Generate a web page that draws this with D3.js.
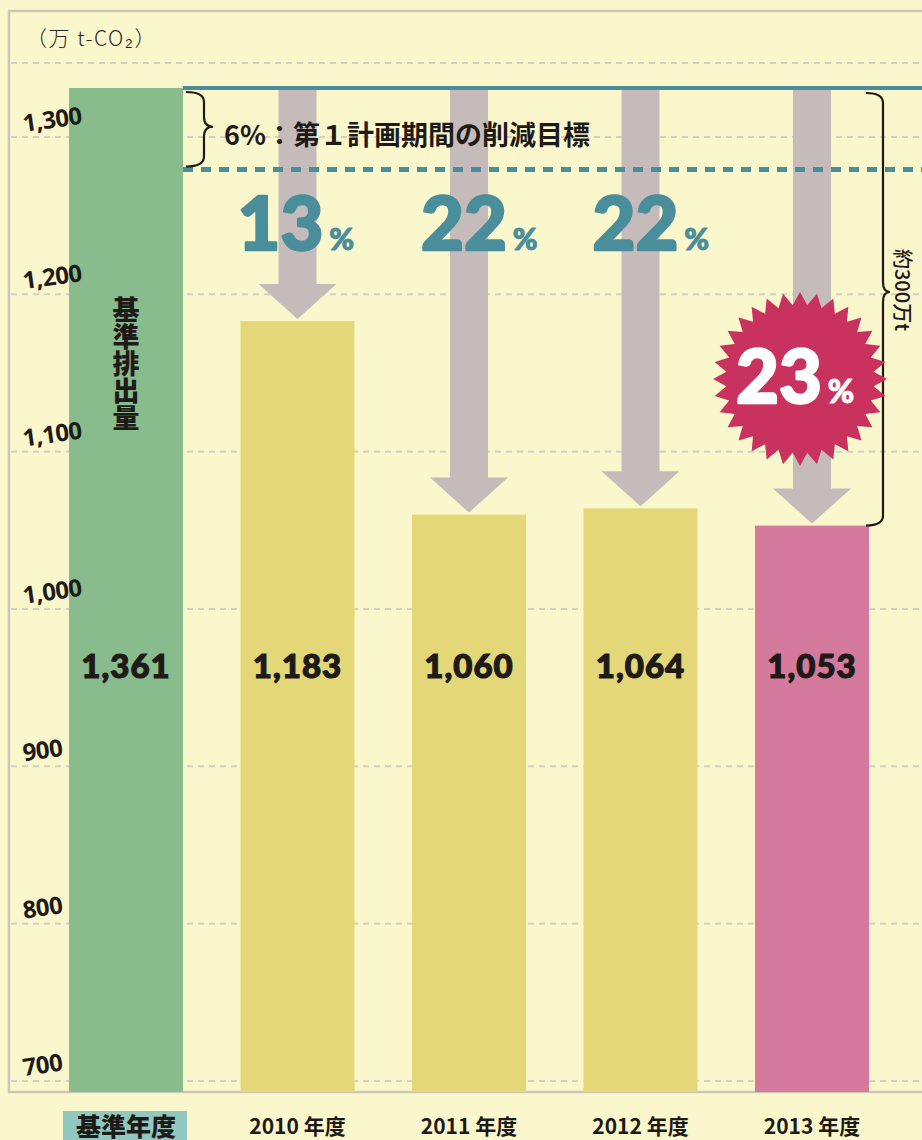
<!DOCTYPE html>
<html>
<head>
<meta charset="utf-8">
<script src="https://cdn.jsdelivr.net/npm/d3@7"></script>
<style>
  body { margin: 0; background: #fbf7cd; }
  svg { display: block; }
</style>
</head>
<body>
<div id="chart"></div>
<script>
// Chart data
const categories = ["基準年度", "2010 年度", "2011 年度", "2012 年度", "2013 年度"];
const emissions = [1361, 1183, 1060, 1064, 1053];
const yTicks = [700, 800, 900, 1000, 1100, 1200, 1300];
const targetPct = 6;

const width = 922, height = 1140;
const plotBottom = 1092;
const barWidth = 114;

const BG = "#fbf7cd";
const TEAL = "#4a8d9b";
const INK = "#1e1a18";
const barColors = ["#88bc8c", "#e3d778", "#e3d778", "#e3d778", "#d47a9d"];

let svg = d3.select("#chart")
    .append("svg")
    .attr("width", width)
    .attr("height", height);

svg.append("rect")
    .attr("width", width).attr("height", height)
    .attr("fill", BG);

// x: bar centers
let x = d3.scalePoint()
    .domain(categories)
    .range([126, 812]);

// y: linear from 700 to 1300, then compressed above (axis break)
let y = d3.scaleLinear()
    .domain([700, 1300, 1361, 1400])
    .range([1081, 137, 88, 63]);

// frame
svg.append("rect")
    .attr("x", 9).attr("y", 11)
    .attr("width", width + 20).attr("height", plotBottom - 11)
    .attr("fill", "none")
    .attr("stroke", "#ccc8b8")
    .attr("stroke-width", 2.5);

// gridlines
svg.append("g")
    .selectAll("line")
    .data(yTicks.concat([1400]))
    .enter()
    .append("line")
    .attr("x1", 11).attr("x2", width)
    .attr("y1", d => y(d)).attr("y2", d => y(d))
    .attr("stroke", "#d3d0c2")
    .attr("stroke-width", 2)
    .attr("stroke-dasharray", "6,5");

// unit
svg.append("text")
    .attr("x", 26).attr("y", 46)
    .style("font-family", "'Noto Sans CJK JP', sans-serif")
    .style("font-weight", 300)
    .style("font-size", "21px")
    .style("letter-spacing", "1.5px")
    .attr("fill", "#2a2522")
    .text("（万 t-CO₂）");

// bars
svg.append("g")
    .selectAll("rect")
    .data(emissions)
    .enter()
    .append("rect")
    .attr("x", (d, i) => x(categories[i]) - barWidth / 2)
    .attr("y", d => y(d))
    .attr("width", barWidth)
    .attr("height", d => plotBottom - y(d))
    .attr("fill", (d, i) => barColors[i]);

// tick labels (tilted, drawn over the base bar)
svg.append("g")
    .selectAll("text")
    .data(yTicks)
    .enter()
    .append("text")
    .attr("transform", d => `translate(24, ${y(d) - 5}) rotate(-8)`)
    .style("font-family", "'Noto Sans', sans-serif")
    .style("font-weight", 700)
    .style("font-size", "24px")
    .style("letter-spacing", "-0.5px")
    .attr("fill", INK)
    .text(d => d3.format(",")(d));

// arrows from base level down to each year's bar
const base = emissions[0];
const years = emissions.slice(1).map((v, i) => ({ cat: categories[i + 1], v: v }));
let arrows = svg.append("g");
years.forEach(function(d) {
    let cx = x(d.cat);
    let tip = y(d.v) - 2;
    let headTop = tip - 35;
    arrows.append("rect")
        .attr("x", cx - 19).attr("y", y(base))
        .attr("width", 38).attr("height", headTop - y(base) + 1)
        .attr("fill", "#c4bbba");
    arrows.append("path")
        .attr("d", `M${cx - 39},${headTop} L${cx + 39},${headTop} L${cx},${tip} Z`)
        .attr("fill", "#c4bbba");
});

// base line and 6% target line
const x0 = x(categories[0]) + barWidth / 2;
let yTarget = y(base * (1 - targetPct / 100));
svg.append("line")
    .attr("x1", x0).attr("x2", width)
    .attr("y1", y(base)).attr("y2", y(base))
    .attr("stroke", TEAL).attr("stroke-width", 4);
svg.append("line")
    .attr("x1", x0).attr("x2", width)
    .attr("y1", yTarget).attr("y2", yTarget)
    .attr("stroke", TEAL).attr("stroke-width", 5)
    .attr("stroke-dasharray", "10,8");

// curly brace helper (opening to the left, tip to the right)
function brace(xs, y0, y1, ym, w, t) {
    let xb = xs + w, r = Math.min(10, (y1 - y0) / 6);
    return `M${xs},${y0} Q${xb},${y0} ${xb},${y0 + r} L${xb},${ym - r} Q${xb},${ym} ${xb + t},${ym}` +
           ` Q${xb},${ym} ${xb},${ym + r} L${xb},${y1 - r} Q${xb},${y1} ${xs},${y1}`;
}

svg.append("path")
    .attr("d", brace(186, y(base) + 4, yTarget - 3, (y(base) + yTarget) / 2 - 2, 18, 9))
    .attr("fill", "none").attr("stroke", INK).attr("stroke-width", 2.2);

svg.append("text")
    .attr("x", 224).attr("y", 145)
    .style("font-family", "'Noto Sans CJK JP', sans-serif")
    .style("font-weight", 700)
    .style("font-size", "27px")
    .attr("fill", INK)
    .text("6%：第１計画期間の削減目標");

let lastRight = x(categories[4]) + barWidth / 2;
let yLast = y(emissions[4]);
svg.append("path")
    .attr("d", brace(lastRight - 3, y(base) + 5, yLast, 292, 17, 7))
    .attr("fill", "none").attr("stroke", INK).attr("stroke-width", 2.2);

svg.append("text")
    .attr("transform", `translate(${lastRight + 26}, 290) rotate(90)`)
    .attr("text-anchor", "middle")
    .style("font-family", "'Noto Sans CJK JP', sans-serif")
    .style("font-weight", 500)
    .style("font-size", "20px")
    .attr("fill", INK)
    .text("約300万t");

// reduction percentages
let pct = years.map(d => ({ cat: d.cat, p: Math.round((1 - d.v / base) * 100) }));
pct.slice(0, 3).forEach(function(d, i) {
    let t = svg.append("text")
        .attr("x", x(d.cat) - (i === 0 ? 60 : 48)).attr("y", 250)
        .style("font-family", "Lato, sans-serif")
        .style("font-weight", 900)
        .attr("fill", TEAL)
        .attr("stroke", TEAL)
        .attr("stroke-width", 2.5)
        .attr("stroke-linejoin", "round");
    t.append("tspan").style("font-size", "74px").text(d.p);
    t.append("tspan").style("font-size", "30px").attr("dx", 6).attr("stroke-width", 1).text("%");
});

// star badge for latest year
let last = pct[3];
let cx = x(last.cat) - 12, cy = 379;
let nPts = 32, rOut = 87, rIn = 74;
let starPts = d3.range(nPts * 2).map(function(i) {
    let a = Math.PI * i / nPts - Math.PI / 2;
    let r = i % 2 === 0 ? rOut : rIn;
    return [cx + r * Math.cos(a), cy + r * Math.sin(a)];
});
svg.append("path")
    .attr("d", d3.line()(starPts) + "Z")
    .attr("fill", "#c9315e");
let st = svg.append("text")
    .attr("x", cx - 64).attr("y", 403)
    .style("font-family", "Lato, sans-serif")
    .style("font-weight", 900)
    .attr("fill", "#ffffff")
    .attr("stroke", "#ffffff")
    .attr("stroke-width", 2.5)
    .attr("stroke-linejoin", "round");
st.append("tspan").style("font-size", "74px").text(last.p);
st.append("tspan").style("font-size", "32px").attr("dx", 6).attr("stroke-width", 1).text("%");

// vertical label in base bar
svg.append("text")
    .attr("x", x(categories[0]))
    .attr("y", 364)
    .attr("text-anchor", "middle")
    .style("writing-mode", "vertical-rl")
    .style("font-family", "'Noto Sans CJK JP', sans-serif")
    .style("font-weight", 900)
    .style("font-size", "27px")
    .attr("fill", INK)
    .text("基準排出量");

// value labels
svg.append("g")
    .selectAll("text")
    .data(emissions)
    .enter()
    .append("text")
    .attr("x", (d, i) => x(categories[i]))
    .attr("y", 678)
    .attr("text-anchor", "middle")
    .style("font-family", "Lato, sans-serif")
    .style("font-weight", 900)
    .style("font-size", "33px")
    .style("letter-spacing", "1px")
    .attr("fill", INK)
    .attr("stroke", INK)
    .attr("stroke-width", 1.2)
    .text(d => d3.format(",")(d));

// category labels
svg.append("rect")
    .attr("x", x(categories[0]) - 63).attr("y", 1111)
    .attr("width", 124).attr("height", 40)
    .attr("fill", "#91c8c0");
svg.append("g")
    .selectAll("text")
    .data(categories)
    .enter()
    .append("text")
    .attr("x", d => x(d))
    .attr("y", (d, i) => i === 0 ? 1136 : 1134)
    .attr("text-anchor", "middle")
    .style("font-family", "'Noto Sans CJK JP', sans-serif")
    .style("font-weight", (d, i) => i === 0 ? 900 : 700)
    .style("font-size", (d, i) => i === 0 ? "25px" : "21px")
    .attr("fill", INK)
    .text(d => d);
</script>
</body>
</html>
